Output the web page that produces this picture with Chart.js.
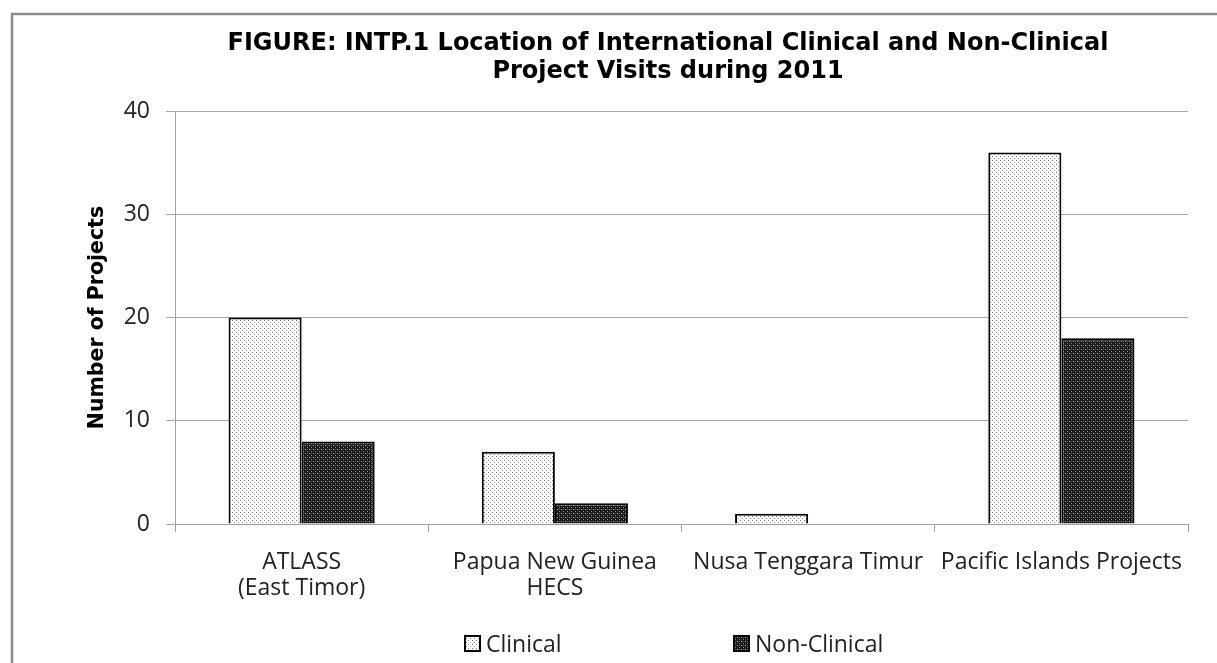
<!DOCTYPE html>
<html>
<head>
<meta charset="utf-8">
<script src="https://cdn.jsdelivr.net/npm/chart.js@4"></script>
<style>
  html, body { margin: 0; padding: 0; background: #fff; }
  #wrap { position: relative; width: 1217px; height: 663px; }
</style>
</head>
<body>
<div id="wrap"><canvas id="chart" width="1217" height="663"></canvas></div>
<script>
const categories = [['ATLASS', '(East Timor)'], ['Papua New Guinea', 'HECS'], 'Nusa Tenggara Timur', 'Pacific Islands Projects'];
const clinical = [20, 7, 1, 36];
const nonClinical = [8, 2, 0, 18];
const yTicks = [0, 10, 20, 30, 40];
const seriesNames = ['Clinical', 'Non-Clinical'];

const FONT = "'Open Sans', 'Noto Sans', sans-serif";
const TITLE_FONT = "'DejaVu Sans', Verdana, sans-serif";

// small repeating tiles, like the excel pattern fills
function makePattern(bg, dots) {
  const c = document.createElement('canvas');
  c.width = 4;
  c.height = 4;
  const g = c.getContext('2d');
  g.fillStyle = bg;
  g.fillRect(0, 0, 4, 4);
  dots.forEach(d => {
    g.fillStyle = d[2];
    g.fillRect(d[0], d[1], 1, 1);
  });
  return g.createPattern(c, 'repeat');
}

const ctx = document.getElementById('chart').getContext('2d');
const lightDots = makePattern('#ffffff', [[0, 0, '#777777'], [2, 2, '#9a9a9a']]);
const darkDots = makePattern('#1a1a1a', [[1, 1, '#bdbdbd'], [3, 3, '#8a8a8a'], [3, 1, '#555555']]);

// outer frame + white background
const framePlugin = {
  id: 'frame',
  beforeDraw(chart) {
    const c = chart.ctx;
    c.save();
    c.fillStyle = '#fff';
    c.fillRect(0, 0, chart.width, chart.height);
    c.strokeStyle = '#8c8c8c';
    c.lineWidth = 2.5;
    c.beginPath();
    c.moveTo(12, chart.height + 5);
    c.lineTo(12, 14);
    c.lineTo(chart.width + 5, 14);
    c.stroke();
    c.restore();
  }
};

// the original title is centred a bit right of the plot, nudge the title box
const titleShift = {
  id: 'titleShift',
  afterLayout(chart) {
    const t = chart.titleBlock;
    if (t) {
      t.left += 70;
      t.right += 0;
    }
  }
};

// legend drawn by hand so the items can sit far apart like the original
const legendPlugin = {
  id: 'farLegend',
  afterDraw(chart) {
    const c = chart.ctx;
    const xs = [465, 734];
    const y = 644;
    c.save();
    c.font = '23px ' + FONT;
    c.textBaseline = 'middle';
    chart.data.datasets.forEach((ds, i) => {
      c.fillStyle = ds.backgroundColor;
      c.fillRect(xs[i], y - 8, 15, 15);
      c.strokeStyle = '#000';
      c.lineWidth = 2;
      c.strokeRect(xs[i], y - 8, 15, 15);
      c.fillStyle = '#222';
      c.fillText(ds.label, xs[i] + 21, y + 1);
    });
    c.restore();
  }
};

new Chart(ctx, {
  type: 'bar',
  data: {
    labels: categories,
    datasets: [
      { label: seriesNames[0], data: clinical, backgroundColor: lightDots, borderColor: '#000', borderWidth: 2 },
      { label: seriesNames[1], data: nonClinical, backgroundColor: darkDots, borderColor: '#000', borderWidth: 2 }
    ]
  },
  options: {
    responsive: false,
    animation: false,
    devicePixelRatio: 1,
    layout: { padding: { top: 0, right: 29, bottom: 0, left: 78 } },
    datasets: {
      bar: { categoryPercentage: 0.577, barPercentage: 1 }
    },
    plugins: {
      legend: { display: false },
      tooltip: { enabled: false },
      title: {
        display: true,
        text: ['FIGURE: INTP.1 Location of International Clinical and Non-Clinical', 'Project Visits during 2011'],
        color: '#000',
        font: { family: TITLE_FONT, size: 24, weight: 'bold', lineHeight: 1.17 },
        padding: { top: 30, bottom: 25 }
      }
    },
    scales: {
      x: {
        grid: { display: true, drawOnChartArea: false, color: '#a0a0a0', tickLength: 8, offset: true },
        border: { color: '#a0a0a0' },
        ticks: { color: '#222', font: { family: FONT, size: 23, lineHeight: 1.13 }, maxRotation: 0, padding: 17 },
        afterFit(scale) { scale.height = 139; }
      },
      y: {
        min: 0,
        max: 40,
        afterBuildTicks(scale) { scale.ticks = yTicks.map(v => ({ value: v })); },
        grid: { color: '#a6a6a6', tickLength: 9 },
        border: { color: '#a0a0a0' },
        ticks: { color: '#222', font: { family: FONT, size: 23 }, padding: 16 },
        title: {
          display: true,
          text: 'Number of Projects',
          color: '#000',
          font: { family: TITLE_FONT, size: 20.5, weight: 'bold', lineHeight: 1.2 },
          padding: { top: 7, bottom: 0 }
        },
        afterFit(scale) { scale.width = 97; }
      }
    }
  },
  plugins: [framePlugin, titleShift, legendPlugin]
});
</script>
</body>
</html>
